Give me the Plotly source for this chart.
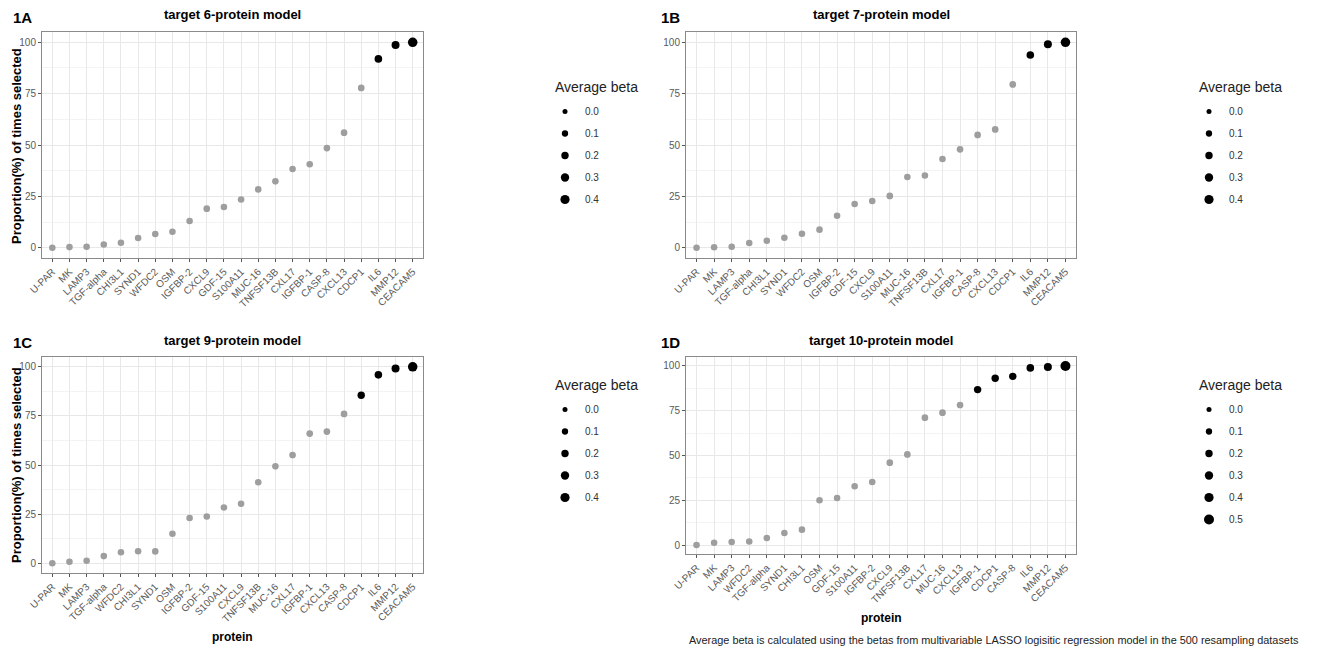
import plotly.graph_objects as go

W, H = 1317, 649
OFF = 8  # page body margin of the html page
FW, FH = W - 2 * OFF, H - OFF

panel_labels = ["1A", "1B", "1C", "1D"]
panel_titles = ["target 6-protein model", "target 7-protein model",
                "target 9-protein model", "target 10-protein model"]

proteins_A = ["U-PAR", "MK", "LAMP3", "TGF-alpha", "CHI3L1", "SYND1", "WFDC2", "OSM",
              "IGFBP-2", "CXCL9", "GDF-15", "S100A11", "MUC-16", "TNFSF13B", "CXL17",
              "IGFBP-1", "CASP-8", "CXCL13", "CDCP1", "IL6", "MMP12", "CEACAM5"]
prop_A = [0, 0.3, 0.5, 1.6, 2.4, 4.7, 6.7, 7.8, 13, 19, 19.8, 23.5, 28.4, 32.3, 38.3,
          40.6, 48.5, 56, 77.8, 91.9, 98.7, 100]
beta_A = [0.12, 0.12, 0.12, 0.12, 0.12, 0.12, 0.12, 0.12, 0.12, 0.13, 0.12, 0.12, 0.12,
          0.12, 0.12, 0.12, 0.13, 0.13, 0.13, 0.22, 0.26, 0.44]

proteins_B = ["U-PAR", "MK", "LAMP3", "TGF-alpha", "CHI3L1", "SYND1", "WFDC2", "OSM",
              "IGFBP-2", "GDF-15", "CXCL9", "S100A11", "MUC-16", "TNFSF13B", "CXL17",
              "IGFBP-1", "CASP-8", "CXCL13", "CDCP1", "IL6", "MMP12", "CEACAM5"]
prop_B = [0, 0.2, 0.5, 2.3, 3.4, 4.9, 6.8, 8.8, 15.6, 21.3, 22.7, 25.2, 34.4, 35.2, 43.2,
          47.9, 54.9, 57.6, 79.5, 93.8, 99, 100]
beta_B = [0.12, 0.12, 0.12, 0.12, 0.12, 0.12, 0.12, 0.12, 0.12, 0.12, 0.12, 0.13, 0.12,
          0.12, 0.12, 0.13, 0.13, 0.13, 0.13, 0.22, 0.26, 0.44]

proteins_C = ["U-PAR", "MK", "LAMP3", "TGF-alpha", "WFDC2", "CHI3L1", "SYND1", "OSM",
              "IGFBP-2", "GDF-15", "S100A11", "CXCL9", "TNFSF13B", "MUC-16", "CXL17",
              "IGFBP-1", "CXCL13", "CASP-8", "CDCP1", "IL6", "MMP12", "CEACAM5"]
prop_C = [0, 0.7, 1.2, 3.6, 5.6, 6.1, 6, 15, 23, 23.8, 28.4, 30.3, 41.2, 49.3, 55.1,
          66, 67, 76, 85.5, 95.9, 99.1, 100]
beta_C = [0.12, 0.12, 0.12, 0.12, 0.12, 0.12, 0.12, 0.12, 0.12, 0.12, 0.12, 0.12, 0.12,
          0.12, 0.13, 0.13, 0.13, 0.13, 0.20, 0.22, 0.26, 0.44]

proteins_D = ["U-PAR", "MK", "LAMP3", "WFDC2", "TGF-alpha", "SYND1", "CHI3L1", "OSM",
              "GDF-15", "S100A11", "IGFBP-2", "CXCL9", "TNFSF13B", "CXL17", "MUC-16",
              "CXCL13", "IGFBP-1", "CDCP1", "CASP-8", "IL6", "MMP12", "CEACAM5"]
prop_D = [0, 1.3, 1.7, 2, 3.9, 6.7, 8.6, 25, 26.3, 32.8, 35.2, 46, 50.6, 71.1, 73.9,
          78.2, 86.8, 93.1, 94.2, 98.9, 99.4, 100]
beta_D = [0.12, 0.12, 0.12, 0.12, 0.12, 0.12, 0.12, 0.12, 0.12, 0.12, 0.12, 0.13, 0.13,
          0.13, 0.13, 0.13, 0.20, 0.20, 0.20, 0.22, 0.26, 0.50]

legend_breaks_ABC = [0.0, 0.1, 0.2, 0.3, 0.4]
legend_breaks_D = [0.0, 0.1, 0.2, 0.3, 0.4, 0.5]

y_ticks = [0, 25, 50, 75, 100]

legend_title = "Average beta"
caption = ("Average beta is calculated using the betas from multivariable LASSO "
           "logisitic regression model in the 500 resampling datasets")

FONT = "Liberation Sans, Arial, sans-serif"
SELECT_THRESHOLD = 80
GREY = "#9e9e9e"


def diam(b):
    return (25 + 150 * b) ** 0.5


def px_x(p):
    return (p - OFF) / FW


def px_y(p):
    return 1 - (p - OFF) / FH


panels = [
    (proteins_A, prop_A, beta_A, legend_breaks_ABC, (42, 423), (32, 258)),
    (proteins_B, prop_B, beta_B, legend_breaks_ABC, (686, 1076), (32, 258)),
    (proteins_C, prop_C, beta_C, legend_breaks_ABC, (42, 423), (357, 573)),
    (proteins_D, prop_D, beta_D, legend_breaks_D, (686, 1076), (357, 554)),
]
# (title left x, title centre y, legend items left x, legend items top y)
legend_pos = [(553, 87, 545, 97), (1197, 87, 1189, 97),
              (553, 385, 545, 395), (1197, 385, 1189, 395)]

fig = go.Figure()
layout = dict(
    width=FW, height=FH, margin=dict(l=0, r=0, t=0, b=0, autoexpand=False),
    paper_bgcolor="white", plot_bgcolor="white",
    font=dict(family=FONT, color="#222"),
    annotations=[], showlegend=True,
)

for i, (prots, props, betas, breaks, (x0, x1), (y0, y1)) in enumerate(panels):
    n = i + 1
    xa = "x" if n == 1 else f"x{n}"
    ya = "y" if n == 1 else f"y{n}"
    lg = "legend" if n == 1 else f"legend{n}"
    colors = ["black" if v > SELECT_THRESHOLD else GREY for v in props]
    fig.add_trace(go.Scatter(
        x=prots, y=props, mode="markers", xaxis=xa, yaxis=ya,
        marker=dict(size=[diam(b) for b in betas], color=colors, opacity=1,
                    line=dict(width=0)),
        showlegend=False, hoverinfo="x+y",
    ))
    for k, b in enumerate(breaks):
        fig.add_trace(go.Scatter(
            x=[None], y=[None], mode="markers", xaxis=xa, yaxis=ya,
            marker=dict(size=diam(b), color="black", opacity=1),
            name=f"{b:.1f}", legend=lg, legendgroup=f"{lg}_{k}", showlegend=True,
        ))
    axkey_x = "xaxis" if n == 1 else f"xaxis{n}"
    axkey_y = "yaxis" if n == 1 else f"yaxis{n}"
    layout[axkey_x] = dict(
        domain=[px_x(x0), px_x(x1)], anchor=ya, type="category",
        categoryorder="array", categoryarray=prots,
        range=[-0.6, len(prots) - 0.4], tickangle=-45, automargin=False,
        tickfont=dict(size=10, color="#5a5a5a"), ticks="outside", ticklen=3,
        tickcolor="#555", showgrid=True, gridcolor="#e8e8e8", gridwidth=1,
        showline=True, linecolor="#8a8a8a", linewidth=1, mirror=True,
        zeroline=False, fixedrange=True,
    )
    layout[axkey_y] = dict(
        domain=[px_y(y1), px_y(y0)], anchor=xa, range=[-5, 105], automargin=False,
        tickvals=y_ticks, tickfont=dict(size=10, color="#5a5a5a"),
        ticks="outside", ticklen=3, tickcolor="#555",
        showgrid=True, gridcolor="#e8e8e8", gridwidth=1,
        minor=dict(tick0=12.5, dtick=25, showgrid=True, gridcolor="#f3f3f3", gridwidth=1),
        showline=True, linecolor="#8a8a8a", linewidth=1, mirror=True,
        zeroline=False, fixedrange=True,
    )
    tx, ty, lx, ly = legend_pos[i]
    layout[lg] = dict(
        x=px_x(lx), y=px_y(ly), xanchor="left", yanchor="top",
        font=dict(size=10, color="#333"), traceorder="grouped",
        tracegroupgap=3, itemsizing="trace", bgcolor="rgba(0,0,0,0)",
    )
    layout["annotations"].append(dict(
        text=legend_title, x=px_x(tx), y=px_y(ty), xref="paper", yref="paper",
        xanchor="left", yanchor="middle", showarrow=False,
        font=dict(size=14, color="#222")))
    # panel label and title
    layout["annotations"].append(dict(
        text=f"<b>{panel_labels[i]}</b>", x=px_x(x0 - 31 if n in (1, 3) else x0 - 27),
        y=px_y(y0 - 15), xref="paper", yref="paper", xanchor="left", yanchor="middle",
        showarrow=False, font=dict(size=15, color="black")))
    layout["annotations"].append(dict(
        text=f"<b>{panel_titles[i]}</b>", x=px_x((x0 + x1) / 2), y=px_y(y0 - 17),
        xref="paper", yref="paper", xanchor="center", yanchor="middle",
        showarrow=False, font=dict(size=13, color="black")))

# axis titles
for (yc, xc) in [(146, 16), (465, 16)]:
    layout["annotations"].append(dict(
        text="<b>Proportion(%) of times selected</b>", textangle=-90,
        x=px_x(xc), y=px_y(yc), xref="paper", yref="paper",
        xanchor="center", yanchor="middle", showarrow=False,
        font=dict(size=13, color="black")))
for (xc, yc) in [(232, 637), (881, 618)]:
    layout["annotations"].append(dict(
        text="<b>protein</b>", x=px_x(xc), y=px_y(yc), xref="paper", yref="paper",
        xanchor="center", yanchor="middle", showarrow=False,
        font=dict(size=12, color="black")))

layout["annotations"].append(dict(
    text=caption, x=px_x(687), y=px_y(640), xref="paper", yref="paper",
    xanchor="left", yanchor="middle", showarrow=False,
    font=dict(size=10.9, color="#222")))

fig.update_layout(**layout)
fig.write_html("out.html")
